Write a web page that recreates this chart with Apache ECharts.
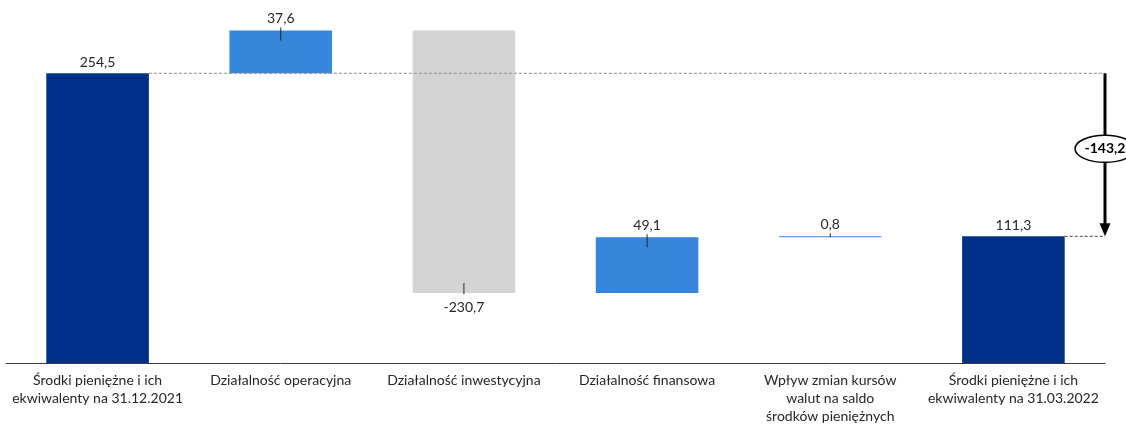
<!DOCTYPE html>
<html>
<head>
<meta charset="utf-8">
<script src="https://cdn.jsdelivr.net/npm/echarts@6/dist/echarts.min.js"></script>
<style>
  html, body { margin: 0; padding: 0; background: #fff; }
  #chart { width: 1126px; height: 425px; }
</style>
</head>
<body>
<div id="chart"></div>
<script>
// Cash flow bridge: opening balance, flows by activity, closing balance
const categories = [
  'Środki pieniężne i ich\nekwiwalenty na 31.12.2021',
  'Działalność operacyjna',
  'Działalność inwestycyjna',
  'Działalność finansowa',
  'Wpływ zmian kursów\nwalut na saldo\nśrodków pieniężnych',
  'Środki pieniężne i ich\nekwiwalenty na 31.03.2022'
];
const values = [254.5, 37.6, -230.7, 49.1, 0.8, 111.3];
const kinds = ['total', 'delta', 'delta', 'delta', 'delta', 'total'];
const netChange = -143.2;

const COLORS = { total: '#003087', up: '#3586DC', down: '#D4D4D4' };
const FONT = 'Lato, "Open Sans", sans-serif';
const fmt = v => v.toFixed(1).replace('.', ',');

// Running totals -> invisible base + visible segment for each step
const bases = [], heights = [], starts = [], ends = [];
let running = 0;
values.forEach((v, i) => {
  if (kinds[i] === 'total') {
    starts.push(0); ends.push(v);
    bases.push(0); heights.push(v);
    running = v;
  } else {
    const s = running, e = running + v;
    starts.push(s); ends.push(e);
    bases.push(Math.min(s, e)); heights.push(Math.abs(v));
    running = e;
  }
});

const segmentData = heights.map((h, i) => {
  let color = COLORS.total;
  if (kinds[i] === 'delta') color = values[i] >= 0 ? COLORS.up : COLORS.down;
  return {
    value: h,
    itemStyle: { color },
    label: { show: kinds[i] === 'total' }
  };
});

const chart = echarts.init(document.getElementById('chart'), null, { renderer: 'canvas' });

chart.setOption({
  animation: false,
  grid: { left: 6, right: 21, top: 21.5, bottom: 60 },
  xAxis: {
    type: 'category',
    data: categories,
    axisLine: { lineStyle: { color: '#3a3a3a', width: 1 } },
    axisTick: { show: false },
    axisLabel: {
      interval: 0, margin: 8, color: '#262626',
      fontFamily: FONT, fontSize: 14, lineHeight: 18
    }
  },
  yAxis: { type: 'value', min: 0, max: 300, show: false, splitLine: { show: false } },
  series: [
    {
      type: 'bar', stack: 'wf', barWidth: '56%', silent: true,
      itemStyle: { color: 'transparent' },
      data: bases
    },
    {
      type: 'bar', stack: 'wf', barWidth: '56%',
      data: segmentData,
      label: {
        position: 'top', distance: 4, color: '#262626',
        fontFamily: FONT, fontSize: 14,
        formatter: p => fmt(values[p.dataIndex])
      },
      z: 2
    },
    {
      // value labels with short leader ticks for the flow bars
      type: 'custom', clip: false, z: 5,
      data: values.map((v, i) => [i, ends[i]]).filter((d, i) => kinds[i] === 'delta'),
      renderItem: (params, api) => {
        const i = api.value(0);
        const p = api.coord([i, ends[i]]);
        const s = api.coord([i, starts[i]]);
        const hPx = Math.abs(p[1] - s[1]);
        const inward = Math.min(10, hPx);
        const up = values[i] >= 0;
        const y1 = up ? p[1] - 3 : p[1] + 1;
        const y2 = up ? p[1] + inward : p[1] - inward;
        const ty = up ? p[1] - 12 : p[1] + 14;
        return {
          type: 'group',
          children: [
            { type: 'line', shape: { x1: p[0], y1, x2: p[0], y2 },
              style: { stroke: '#262626', lineWidth: 1 } },
            { type: 'text', x: p[0], y: ty,
              style: { text: fmt(values[i]), fill: '#262626', font: '14px ' + FONT,
                       align: 'center', verticalAlign: 'middle' } }
          ]
        };
      }
    },
    {
      // reference lines and net-change arrow on the right
      type: 'custom', clip: false, z: 6,
      data: [[0]],
      renderItem: (params, api) => {
        const band = api.size([1, 0])[0];
        const halfBar = band * 0.56 / 2;
        const first = api.coord([0, values[0]]);
        const lastIdx = values.length - 1;
        const last = api.coord([lastIdx, values[lastIdx]]);
        const xArrow = last[0] + band / 2;
        const yTop = first[1], yBot = last[1];
        const midY = (yTop + yBot) / 2 - 6;
        return {
          type: 'group',
          children: [
            { type: 'line', shape: { x1: first[0] + halfBar, y1: yTop, x2: xArrow, y2: yTop },
              style: { stroke: '#8c8c8c', lineWidth: 1, lineDash: [3, 2] } },
            { type: 'line', shape: { x1: last[0] + halfBar, y1: yBot, x2: xArrow, y2: yBot },
              style: { stroke: '#404040', lineWidth: 1, lineDash: [3, 2] } },
            { type: 'line', shape: { x1: xArrow, y1: yTop, x2: xArrow, y2: yBot - 11 },
              style: { stroke: '#000', lineWidth: 3 } },
            { type: 'polygon', shape: { points: [[xArrow - 5.5, yBot - 13], [xArrow + 5.5, yBot - 13], [xArrow, yBot]] },
              style: { fill: '#000' } },
            { type: 'ellipse', shape: { cx: xArrow, cy: midY, rx: 30, ry: 13.5 },
              style: { fill: '#fff', stroke: '#000', lineWidth: 1.5 } },
            { type: 'text', x: xArrow, y: midY,
              style: { text: fmt(netChange), fill: '#000', font: 'bold 14px ' + FONT,
                       align: 'center', verticalAlign: 'middle' } }
          ]
        };
      }
    }
  ]
});
</script>
</body>
</html>
